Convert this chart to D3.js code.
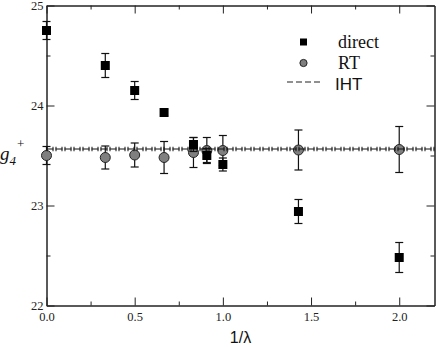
<!DOCTYPE html>
<html><head><meta charset="utf-8">
<script src="https://cdn.jsdelivr.net/npm/d3@7"></script>
<style>
html,body{margin:0;padding:0;background:#fff;}
svg{display:block;}
.serif{font-family:"Liberation Serif","Times New Roman",Times,serif;}
.sans{font-family:"Liberation Sans",Arial,Helvetica,sans-serif;}
</style></head>
<body>
<svg id="chart" width="436" height="347"></svg>
<script>
// ---- data ----
const xValues = [0, 1/3, 0.5, 2/3, 1/1.2, 1/1.1, 1.0, 1/0.7, 2.0];
const directValues = [24.75, 24.40, 24.15, 23.93, 23.61, 23.50, 23.41, 22.94, 22.48];
const directErrors = [0.09, 0.12, 0.09, 0.03, 0.07, 0.07, 0.065, 0.12, 0.15];
const rtValues = [23.50, 23.48, 23.505, 23.48, 23.53, 23.55, 23.55, 23.555, 23.56];
const rtErrors = [0.09, 0.115, 0.12, 0.16, 0.15, 0.13, 0.15, 0.20, 0.23];
const ihtValue = 23.565;
const ihtError = 0.022;
const xTicks = [0, 0.5, 1.0, 1.5, 2.0];
const xTickLabels = ["0.0", "0.5", "1.0", "1.5", "2.0"];
const yTicks = [22, 23, 24, 25];
const yTickLabels = ["22", "23", "24", "25"];
const seriesNames = ["direct", "RT", "IHT"];

// ---- layout ----
const svg = d3.select("#chart");
const L = 46.5, R = 434.5, T = 5.5, B = 305.5;
const x = d3.scaleLinear().domain([0, 2.2]).range([L, R]);
const y = d3.scaleLinear().domain([22, 25]).range([B, T]);
const axisCol = "#222";

function styleAxis(g){
  g.attr("font-family", null);
  g.select(".domain").attr("stroke", axisCol).attr("stroke-width", 1);
  g.selectAll(".tick line").attr("stroke", axisCol);
}
const xMinor = [0.25, 0.75, 1.25, 1.75];
const yMinor = [22.5, 23.5, 24.5];

// bottom
svg.append("g").attr("transform", `translate(0,${B})`)
  .call(d3.axisBottom(x).tickValues(xTicks).tickSize(-8).tickSizeOuter(0)
    .tickFormat((d,i) => xTickLabels[i]))
  .call(styleAxis)
  .call(g => g.selectAll("text").attr("class", "serif").attr("font-size", 12.5)
    .attr("fill", "#222").attr("dy", "0").attr("y", 15));
svg.append("g").attr("transform", `translate(0,${B})`)
  .call(d3.axisBottom(x).tickValues(xMinor).tickSize(-4).tickSizeOuter(0).tickFormat(""))
  .call(styleAxis);
// top
svg.append("g").attr("transform", `translate(0,${T})`)
  .call(d3.axisTop(x).tickValues(xTicks).tickSize(-8).tickSizeOuter(0).tickFormat(""))
  .call(styleAxis);
svg.append("g").attr("transform", `translate(0,${T})`)
  .call(d3.axisTop(x).tickValues(xMinor).tickSize(-4).tickSizeOuter(0).tickFormat(""))
  .call(styleAxis);
// left
svg.append("g").attr("transform", `translate(${L},0)`)
  .call(d3.axisLeft(y).tickValues(yTicks).tickSize(-8).tickSizeOuter(0)
    .tickFormat((d,i) => yTickLabels[i]))
  .call(styleAxis)
  .call(g => g.selectAll("text").attr("class", "serif").attr("font-size", 12.5)
    .attr("fill", "#222").attr("x", -3).attr("dy", "0.32em"));
svg.append("g").attr("transform", `translate(${L},0)`)
  .call(d3.axisLeft(y).tickValues(yMinor).tickSize(-4).tickSizeOuter(0).tickFormat(""))
  .call(styleAxis);
// right
svg.append("g").attr("transform", `translate(${R},0)`)
  .call(d3.axisRight(y).tickValues(yTicks).tickSize(-8).tickSizeOuter(0).tickFormat(""))
  .call(styleAxis);
svg.append("g").attr("transform", `translate(${R},0)`)
  .call(d3.axisRight(y).tickValues(yMinor).tickSize(-4).tickSizeOuter(0).tickFormat(""))
  .call(styleAxis);

// axis labels
const yl = svg.append("text").attr("class", "serif").attr("x", 0).attr("y", 160)
  .attr("font-style", "italic").attr("fill", "#111");
yl.append("tspan").attr("font-size", 19).text("g");
yl.append("tspan").attr("font-size", 13).attr("dy", 5).text("4");
yl.append("tspan").attr("font-size", 13).attr("font-style", "normal").attr("dx", 1).attr("dy", -17).text("+");

svg.append("text").attr("class", "sans").attr("x", (L+R)/2).attr("y", 343).attr("text-anchor", "middle")
  .attr("font-size", 16).attr("fill", "#111").text("1/λ");

// error bar helper
function errorBars(vals, errs, color){
  const g = svg.append("g").attr("stroke", color).attr("stroke-width", 1.2).attr("fill", "none");
  xValues.forEach((xv, i) => {
    const cx = x(xv), y1 = y(vals[i] + errs[i]), y2 = y(vals[i] - errs[i]);
    g.append("line").attr("x1", cx).attr("x2", cx).attr("y1", y1).attr("y2", y2);
    g.append("line").attr("x1", cx-4).attr("x2", cx+4).attr("y1", y1).attr("y2", y1);
    g.append("line").attr("x1", cx-4).attr("x2", cx+4).attr("y1", y2).attr("y2", y2);
  });
}

// RT
errorBars(rtValues, rtErrors, "#111");
svg.append("g").selectAll("circle").data(rtValues).join("circle")
  .attr("cx", (d,i) => x(xValues[i])).attr("cy", d => y(d)).attr("r", 5)
  .attr("fill", "#7f7f7f").attr("stroke", "#222").attr("stroke-width", 1);

// IHT line with error band drawn as H pattern
const ihtG = svg.append("g");
ihtG.append("line").attr("x1", L).attr("x2", R)
  .attr("y1", y(ihtValue)).attr("y2", y(ihtValue))
  .attr("stroke", "#111").attr("stroke-width", 1).attr("stroke-dasharray", "7 2");
ihtG.append("line").attr("x1", L).attr("x2", R)
  .attr("y1", y(ihtValue)).attr("y2", y(ihtValue))
  .attr("stroke", "#111").attr("stroke-width", y(ihtValue - ihtError) - y(ihtValue + ihtError))
  .attr("stroke-dasharray", "1 5 1 2");

// direct
errorBars(directValues, directErrors, "#111");
svg.append("g").selectAll("rect").data(directValues).join("rect")
  .attr("x", (d,i) => x(xValues[i]) - 4.5).attr("y", d => y(d) - 4.5)
  .attr("width", 9).attr("height", 9).attr("fill", "#000");

// legend
const lg = svg.append("g");
lg.append("rect").attr("x", 300).attr("y", 38.5).attr("width", 7).attr("height", 7).attr("fill", "#000");
lg.append("text").attr("class", "serif").attr("x", 338).attr("y", 47.5).attr("font-size", 18)
  .attr("fill", "#111").text(seriesNames[0]);
lg.append("circle").attr("cx", 303.5).attr("cy", 63).attr("r", 3.6)
  .attr("fill", "#7f7f7f").attr("stroke", "#222");
lg.append("text").attr("class", "serif").attr("x", 338).attr("y", 69).attr("font-size", 18)
  .attr("fill", "#111").text(seriesNames[1]);
lg.append("line").attr("x1", 287).attr("x2", 321).attr("y1", 82).attr("y2", 82)
  .attr("stroke", "#222").attr("stroke-width", 1.2).attr("stroke-dasharray", "6 3");
lg.append("text").attr("class", "sans").attr("x", 335).attr("y", 90).attr("font-size", 17)
  .attr("fill", "#111").text(seriesNames[2]);
</script>
</body></html>
